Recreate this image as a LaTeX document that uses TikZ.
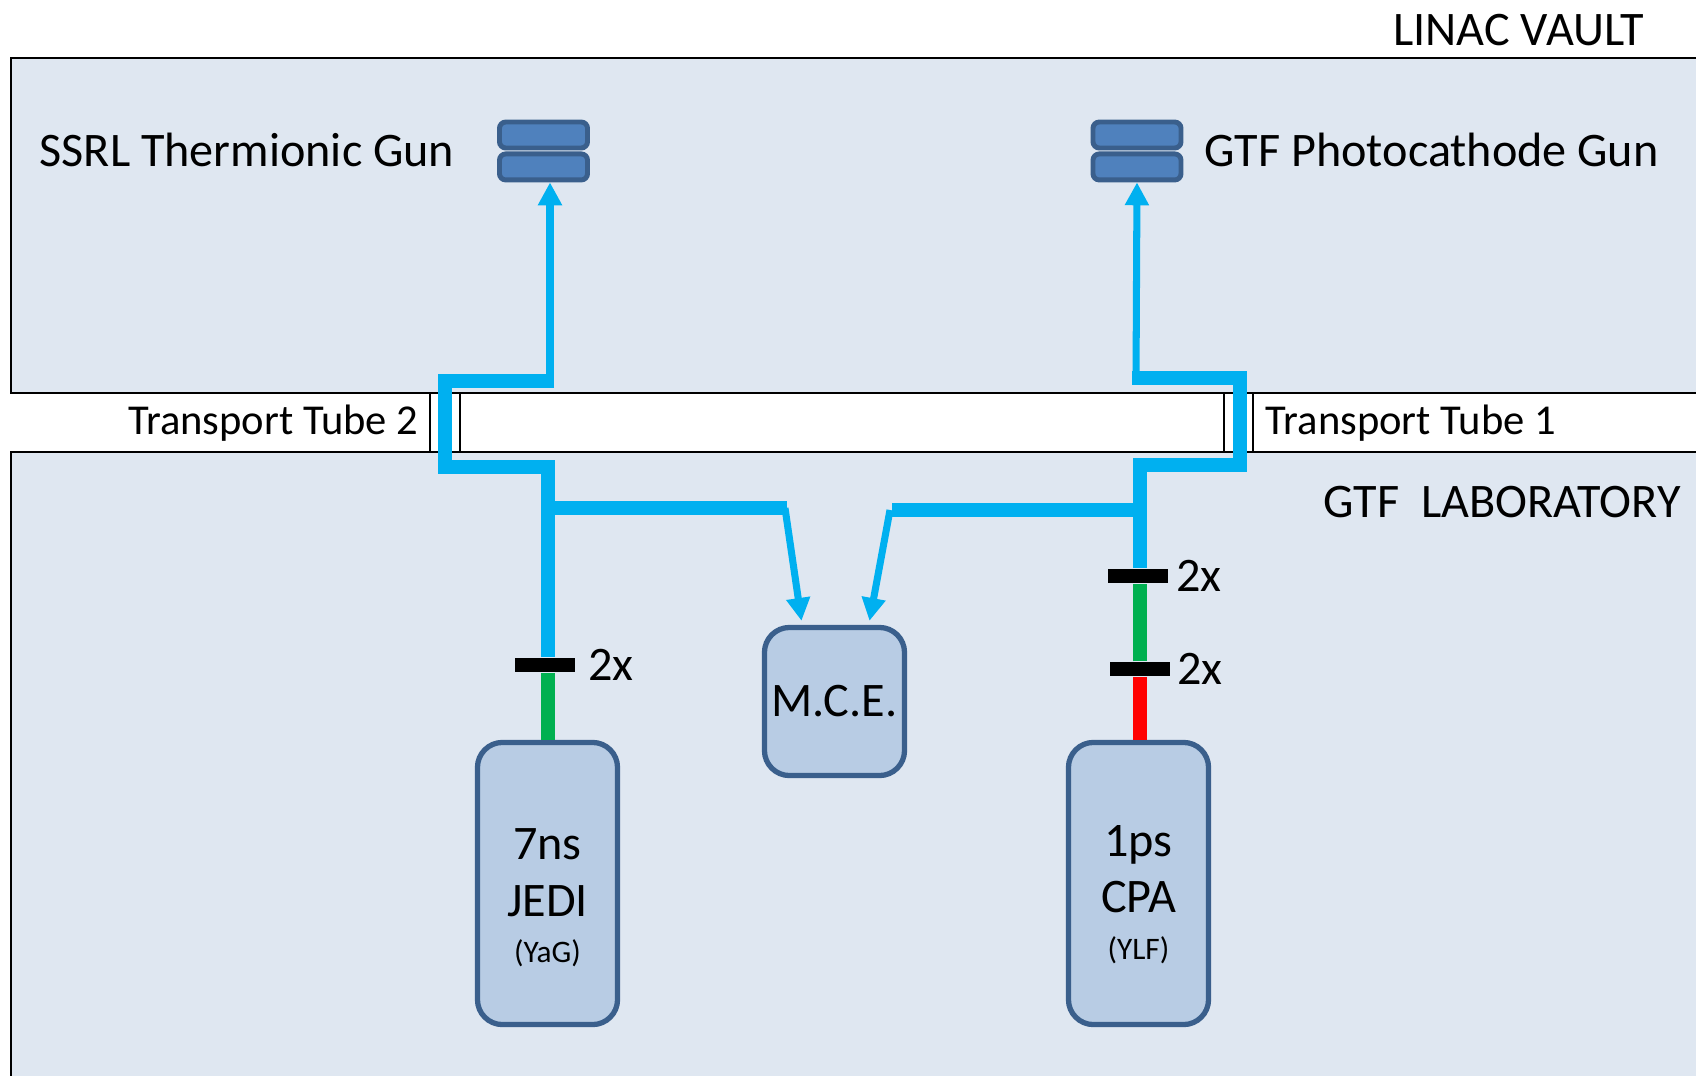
\documentclass[tikz,border=0pt]{standalone}
\usepackage{fontspec}
\setmainfont{Carlito}
\usetikzlibrary{arrows.meta,positioning,calc}
\definecolor{roomfill}{HTML}{DFE7F1}
\definecolor{beamblue}{HTML}{00B0F0}
\definecolor{boxfill}{HTML}{B8CCE4}
\definecolor{boxline}{HTML}{3A5F8C}
\definecolor{gunfill}{HTML}{4F81BD}
\definecolor{greenbeam}{HTML}{00B050}
\definecolor{redbeam}{HTML}{FF0000}
\tikzset{
  room/.style={draw=black, line width=0.7pt, fill=roomfill},
  gun/.style={rectangle, rounded corners=1.8pt, draw=boxline, fill=gunfill, line width=1.4pt,
    minimum width=0.88cm, minimum height=0.26cm, inner sep=0pt},
  laser/.style={rectangle, rounded corners=0.25cm, draw=boxline, fill=boxfill, line width=1.5pt,
    minimum width=1.40cm, minimum height=2.82cm, inner sep=0pt, align=center,
    font=\fontsize{13.7}{16.2}\selectfont},
  beam/.style={beamblue, line width=3.8pt},
  ray/.style={beamblue, line width=2pt, -{Triangle[width=6.5pt,length=6.5pt]}},
  bar/.style={rectangle, fill=black, minimum width=0.6cm, minimum height=0.14cm, inner sep=0pt},
  lbl/.style={font=\fontsize{13.7}{16}\selectfont, inner sep=0pt},
  tubelbl/.style={font=\fontsize{12.1}{14}\selectfont, inner sep=0pt},
}
\begin{document}
\begin{tikzpicture}[x=0.01cm, y=-0.01cm]
    \useasboundingbox (0,0) rectangle (1696,1075);
    \clip (0,0) rectangle (1696,1075);
    % rooms and transport tubes
    \draw[room] (11,58) rectangle (1720,393);
    \draw[room] (11,452) rectangle (1720,1100);
    \draw[line width=0.5pt] (430,393) -- (430,452) (460,393) -- (460,452);
    \draw[line width=0.5pt] (1224,393) -- (1224,452) (1253,393) -- (1253,452);
    \node[lbl, anchor=east] at (1645,30) {LINAC VAULT};
    \node[lbl, anchor=west] at (1323,502) {GTF~~LABORATORY};
    \node[tubelbl, anchor=east] (tube2) at (419,423) {Transport Tube 2};
    \node[tubelbl, anchor=west] (tube1) at (1265,423) {Transport Tube 1};
    % guns
    \node[gun] (ssrltop) at (543.5,135) {};
    \node[gun, below=0.01cm of ssrltop] (ssrl) {};
    \node[gun] (gtftop) at (1137,135) {};
    \node[gun, below=0.01cm of gtftop] (gtf) {};
    \node[lbl, anchor=west] (ssrllabel) at (39,150) {SSRL Thermionic Gun};
    \node[lbl, anchor=west] (gtflabel) at (1204,150) {GTF Photocathode Gun};
    % lasers and M.C.E.
    \node[laser] (jedi) at (547.5,883.5)
        {\rule{0pt}{17pt}7ns\\JEDI\\[-3pt]{\fontsize{8.9}{11}\selectfont (YaG)}};
    \node[laser] (cpa) at (1138.5,883.5)
        {\rule{0pt}{15pt}1ps\\CPA\\[-3pt]{\fontsize{8.9}{11}\selectfont (YLF)}};
    \node[laser, minimum height=1.48cm] (mce) at (834.5,701.5) {M.C.E.};
    % doublers
    \node[bar] (dblL) at (545,665) {};
    \node[bar] (dblR1) at (1138,576) {};
    \node[bar] (dblR2) at (1140,669) {};
    \node[lbl, right=0.12cm of dblL] {2x};
    \node[lbl, right=0.07cm of dblR1] {2x};
    \node[lbl, right=0.06cm of dblR2] {2x};
    % beams, left
    \draw[greenbeam, line width=3.8pt] (jedi.north -| 548,0) -- (dblL.south -| 548,0);
    \draw[beam] (554,381) -- (445,381) -- (445,467) -- (548,467) -- (dblL.north -| 548,0);
    \draw[beam] (548,508) -- (787,508);
    \draw[ray] (550,386) -- (ssrl.south -| 550,0);
    \draw[ray] (785,508) -- ($(mce.north)+(-33,-4)$);
    % beams, right
    \draw[redbeam, line width=3.8pt] (cpa.north -| 1140,0) -- (dblR2.south -| 1140,0);
    \draw[greenbeam, line width=3.8pt] (dblR2.north -| 1140,0) -- (dblR1.south -| 1140,0);
    \draw[beam] (1132,378) -- (1240,378) -- (1240,465) -- (1140,465) -- (dblR1.north -| 1140,0);
    \draw[beam] (1140,510) -- (892,510);
    \draw[ray] (1136,383) -- (gtf.south);
    \draw[ray] (890,510) -- ($(mce.north)+(35,-4)$);
\end{tikzpicture}
\end{document}
